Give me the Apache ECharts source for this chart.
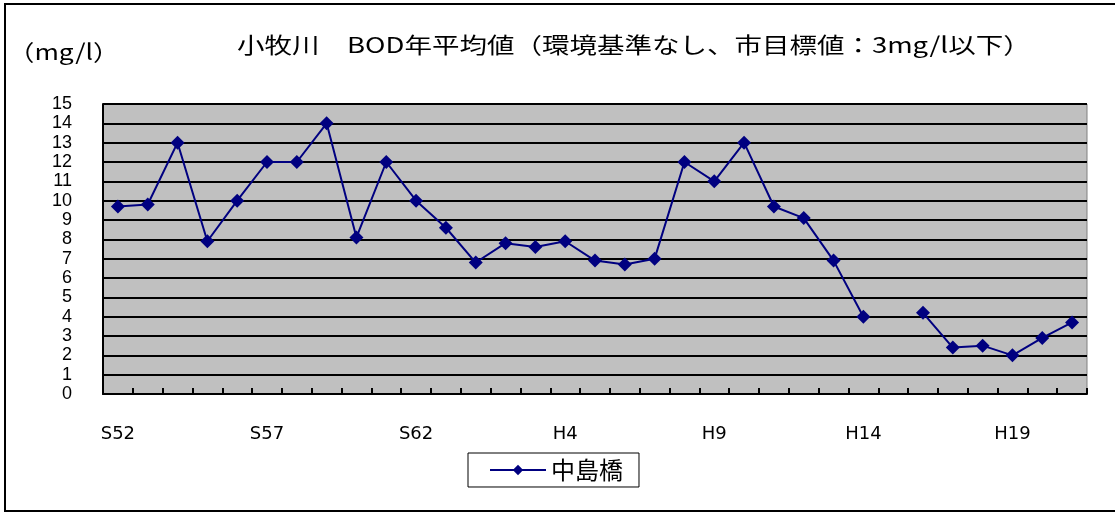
<!DOCTYPE html>
<html>
<head>
<meta charset="utf-8">
<script src="https://cdn.jsdelivr.net/npm/echarts@6/dist/echarts.min.js"></script>
<style>
  html, body { margin: 0; padding: 0; background: #fff; }
  #chart { width: 1115px; height: 513px; }
</style>
</head>
<body>
<div id="chart"></div>
<script>
// fiscal years: Showa 52-63, Heisei 1-21
const years = [
  "S52", "S53", "S54", "S55", "S56", "S57", "S58", "S59", "S60", "S61", "S62", "S63",
  "H1", "H2", "H3", "H4", "H5", "H6", "H7", "H8", "H9", "H10", "H11", "H12",
  "H13", "H14", "H15", "H16", "H17", "H18", "H19", "H20", "H21"
];
// BOD annual mean at 中島橋 (mg/l), H15 not measured
const nakajimabashi = [
  9.7, 9.8, 13, 7.9, 10, 12, 12, 14, 8.1, 12, 10, 8.6,
  6.8, 7.8, 7.6, 7.9, 6.9, 6.7, 7.0, 12, 11, 13, 9.7, 9.1,
  6.9, 4.0, null, 4.2, 2.4, 2.5, 2.0, 2.9, 3.7
];
const yTicks = { min: 0, max: 15, interval: 1 };

const FONT = '"Noto Sans CJK JP", "Liberation Sans", sans-serif';

const chart = echarts.init(document.getElementById("chart"));
chart.setOption({
  animation: false,
  backgroundColor: "#fff",
  graphic: [
    {
      type: "rect",
      shape: { x: 5, y: 4, width: 1130, height: 507 },
      style: { fill: null, stroke: "#000", lineWidth: 2 },
      silent: true
    },
    // title, a bit wider than the font to match the original's stretched look
    {
      type: "text",
      x: 237,
      y: 45,
      scaleX: 1.25,
      style: {
        text: "小牧川　BOD年平均値（環境基準なし、市目標値：3mg/l以下）",
        font: "22px " + FONT,
        fill: "#000",
        verticalAlign: "middle"
      }
    },
    {
      type: "text",
      x: 8,
      y: 52,
      scaleX: 1.2,
      style: { text: "（mg/l）", font: "22px " + FONT, fill: "#000", verticalAlign: "middle" }
    }
  ],
  legend: {
    left: 468,
    top: 453,
    orient: "horizontal",
    padding: [5, 16, 5, 21],
    borderColor: "#000",
    borderWidth: 1,
    itemWidth: 56,
    itemHeight: 13,
    textStyle: { fontFamily: FONT, fontSize: 24, color: "#000" },
    data: ["中島橋"]
  },
  grid: {
    left: 103,
    right: 28,
    top: 104,
    bottom: 119,
    show: true,
    backgroundColor: "#C0C0C0",
    borderColor: "#808080",
    borderWidth: 1
  },
  xAxis: {
    type: "category",
    data: years,
    boundaryGap: true,
    axisLine: { lineStyle: { color: "#000", width: 2 } },
    axisTick: { show: true, inside: true, length: 6, interval: 0, lineStyle: { color: "#000", width: 2 } },
    axisLabel: { interval: 4, margin: 31, fontFamily: '"DejaVu Sans", sans-serif', fontSize: 18, color: "#000" },
    splitLine: { show: false }
  },
  yAxis: {
    type: "value",
    min: yTicks.min,
    max: yTicks.max,
    interval: yTicks.interval,
    axisLine: { show: true, lineStyle: { color: "#000", width: 2 } },
    axisTick: { show: false },
    axisLabel: {
      margin: 31,
      showMinLabel: true,
      showMaxLabel: true,
      fontFamily: '"Liberation Sans", sans-serif',
      fontSize: 18,
      color: "#000",
      lineHeight: 18
    },
    splitLine: { show: true, lineStyle: { color: "#000", width: 2 } }
  },
  series: [
    {
      name: "中島橋",
      type: "line",
      data: nakajimabashi,
      connectNulls: false,
      symbol: "diamond",
      symbolSize: 14,
      itemStyle: { color: "#000080" },
      lineStyle: { color: "#000080", width: 2 }
    }
  ]
});
</script>
</body>
</html>
